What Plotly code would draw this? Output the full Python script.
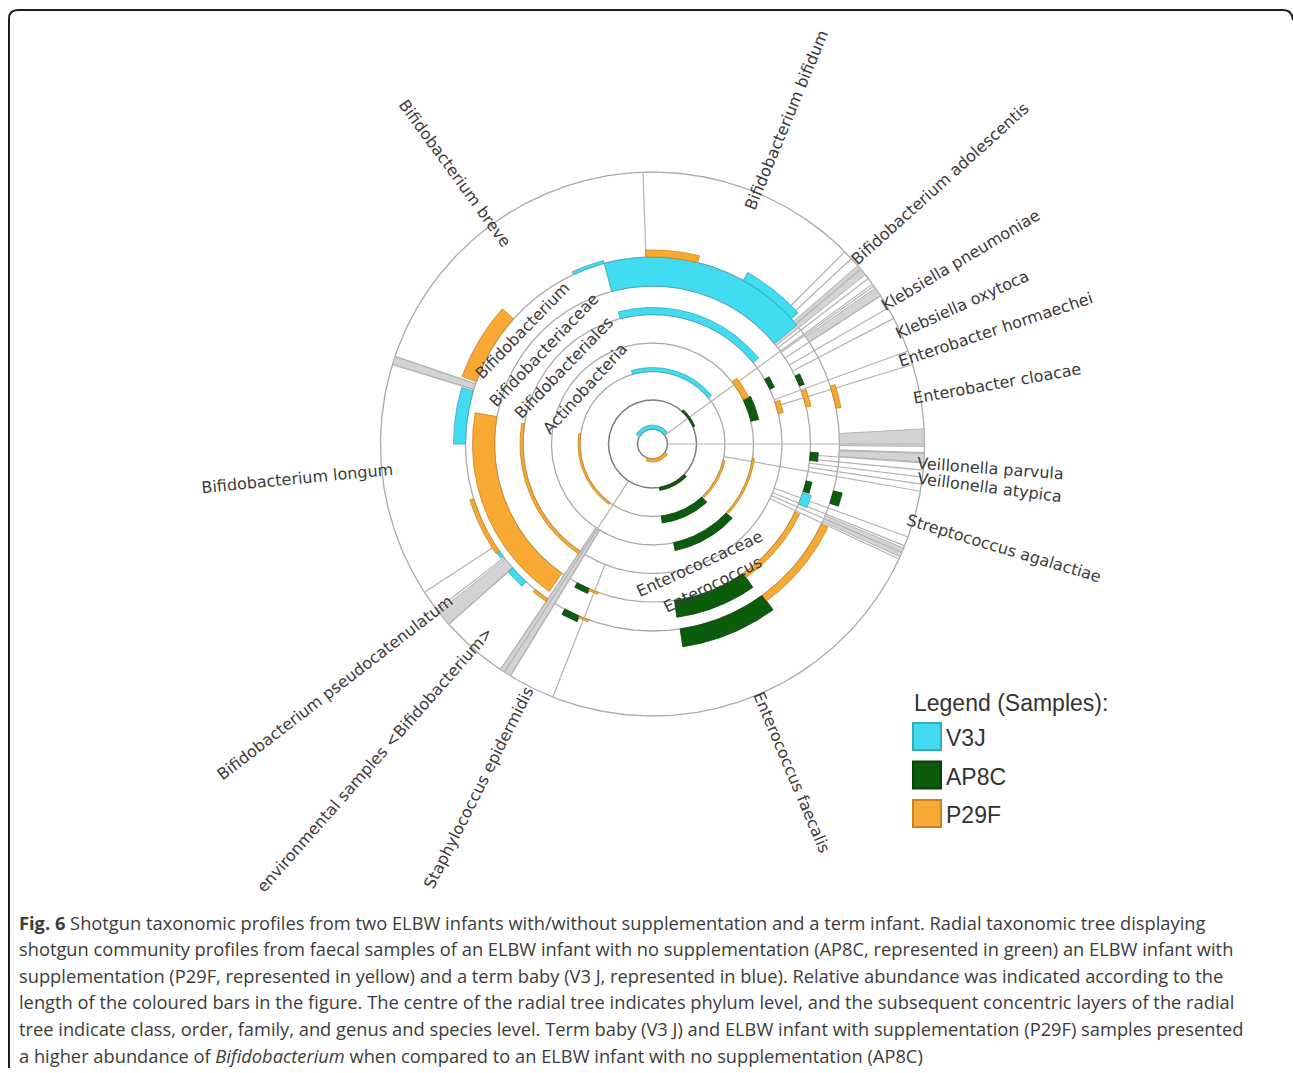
import numpy as np
import plotly.graph_objects as go

# ------------------------------------------------------------------
# Data
# ------------------------------------------------------------------
SAMPLES = ["V3J", "AP8C", "P29F"]

# Abundance bars of the radial tree: sample, tree level (0 = centre),
# angular span of the bar (degrees, counter-clockwise from east) and bar height.
bar_sample = ["V3J", "P29F",
              "AP8C", "AP8C",
              "V3J", "P29F", "AP8C", "P29F",
              "AP8C", "P29F", "AP8C", "P29F",
              "V3J", "P29F", "P29F", "AP8C",
              "V3J", "P29F", "AP8C", "P29F", "AP8C", "P29F", "P29F", "AP8C",
              "AP8C", "V3J", "AP8C",
              "V3J", "P29F", "V3J", "P29F", "V3J", "P29F", "V3J", "V3J",
              "P29F", "AP8C", "P29F", "AP8C", "P29F", "P29F", "AP8C"]
bar_level = [0, 0,
             1, 1,
             2, 2, 2, 2,
             3, 3, 3, 3,
             4, 4, 4, 4,
             5, 5, 5, 5, 5, 5, 5, 5,
             5, 5, 5,
             6, 6, 6, 6, 6, 6, 6, 6,
             6, 6, 6, 6, 6, 6, 6]
bar_theta_start = [38, 250,
                   279, 23,
                   39.5, 172, 277, 314,
                   282, 318, 13, 26,
                   39, 171, 13.5, 25,
                   39.5, 170, 278, 305, 241.5, 246.5, 13.5, 21.5,
                   354, 337.6, 342.5,
                   42, 76, 105, 138, 163.5, 197, 215, 221.5,
                   231, 242, 247, 278.5, 306, 11, 341.5]
bar_theta_end = [150, 325,
                 316, 48,
                 106, 234, 313, 347,
                 317, 352, 26, 38,
                 104.5, 236, 19, 30,
                 105, 235, 305, 334.5, 246.5, 250, 19.5, 25.5,
                 357, 342, 346.5,
                 61, 92, 115, 160.5, 180, 215, 217, 227.5,
                 236, 247, 250, 306, 334.6, 18, 345.5]
bar_value = [4, 3,
             3, 2,
             4, 2, 7, 2,
             8, 2, 8, 6,
             7, 3, 5, 5,
             29, 22, 17, 5, 5, 2, 5, 5,
             8, 9, 6,
             9, 7, 3, 15, 12, 4, 3, 6,
             3, 6, 2, 18, 7, 5, 9]

# Tree edges: angle (deg) and the level they start from; all run to the leaf circle
edge_theta = [36, 0, 237, 350,
              92, 161.2, 163, 213, 217.5, 221.5, 236, 238.5, 248.5,
              45, 43, 40, 37.5, 35.5, 33, 30, 27.5, 20, 17,
              358, 356, 354.5, 353, 351.5,
              340, 338, 336.5, 335]
edge_from = [0, 0, 1, 2,
             6, 6, 6, 6, 6, 6, 3, 3, 4,
             5, 5, 5, 5, 5, 5, 5, 5, 4, 4,
             6, 5, 5, 5, 5,
             4, 4, 4, 4]

# Collapsed sub-trees drawn as grey fans: angular span and inner level
fan_theta_start = [161.2, 218, 236, -0.5, -3.8, 38.5, 33, -24.5]
fan_theta_end = [163, 221.5, 238.5, 3.2, -1.8, 41, 35, -22.5]
fan_from = [6, 6, 3, 6, 6, 5, 6, 6]

# Leaf (species) names and their angular position
leaf_names = ["Bifidobacterium bifidum", "Bifidobacterium adolescentis",
              "Klebsiella pneumoniae", "Klebsiella oxytoca",
              "Enterobacter hormaechei", "Enterobacter cloacae",
              "Veillonella parvula", "Veillonella atypica",
              "Streptococcus agalactiae", "Enterococcus faecalis",
              "Staphylococcus epidermidis",
              "environmental samples <Bifidobacterium>",
              "Bifidobacterium pseudocatenulatum", "Bifidobacterium longum",
              "Bifidobacterium breve"]
leaf_theta = [67.5, 42.1, 30.8, 24.3, 18.4, 10.0, -4.2, -7.3, -16.6, -67.1,
              243.2, 228.6, 217.5, 185.5, 126.1]

# Inner node names and their angular position
node_names = ["Actinobacteria", "Bifidobacteriales", "Bifidobacteriaceae",
              "Bifidobacterium", "Enterococcaceae", "Enterococcus"]
node_theta = [140.5, 139.1, 139.3, 138.9, -68.3, -66.8]

caption_lines = [
    "<b>Fig. 6</b> Shotgun taxonomic profiles from two ELBW infants with/without supplementation and a term infant. Radial taxonomic tree displaying",
    "shotgun community profiles from faecal samples of an ELBW infant with no supplementation (AP8C, represented in green) an ELBW infant with",
    "supplementation (P29F, represented in yellow) and a term baby (V3 J, represented in blue). Relative abundance was indicated according to the",
    "length of the coloured bars in the figure. The centre of the radial tree indicates phylum level, and the subsequent concentric layers of the radial",
    "tree indicate class, order, family, and genus and species level. Term baby (V3 J) and ELBW infant with supplementation (P29F) samples presented",
    "a higher abundance of <i>Bifidobacterium</i> when compared to an ELBW infant with no supplementation (AP8C)",
]

# ------------------------------------------------------------------
# Layout / style
# ------------------------------------------------------------------
W, H = 1293, 1073
CX, CY = 652.5, 444.0
LEVEL_R = [15, 44, 72.5, 101, 129.5, 158, 187]
OUTER_R = 272
LEAF_LABEL_R = [351, 388, 358, 340, 362, 350, 339, 340, 367, 356,
                385, 420, 400, 357, 335]
NODE_LABEL_R = [87.5, 116.8, 144, 172.4, 128.4, 152.5]

FILL = {"V3J": "#41dcf1", "AP8C": "#0b5d0b", "P29F": "#f7a933"}
EDGE = {"V3J": "#3aa9b8", "AP8C": "#0a3f0a", "P29F": "#c98420"}
GRID = "#aaaaaa"
TXT = "#3b3b3b"
LABEL_FONT = "DejaVu Sans"


def xy(theta_deg, r):
    t = np.radians(theta_deg)
    return CX + r * np.cos(t), CY - r * np.sin(t)


def sector(t0, t1, r0, r1):
    n = max(6, int(abs(t1 - t0) * 2) + 2)
    ts = np.linspace(t0, t1, n)
    xo, yo = xy(ts, r1)
    xi, yi = xy(ts[::-1], r0)
    xs = list(np.r_[xo, xi, xo[:1]])
    ys = list(np.r_[yo, yi, yo[:1]])
    return xs, ys


fig = go.Figure()

# concentric level circles and outer leaf circle (inner two drawn darker)
ts = np.linspace(0, 360, 721)
for group, color, width in [(LEVEL_R[2:] + [OUTER_R], GRID, 1.3),
                            (LEVEL_R[:2], "#7d7d7d", 1.5)]:
    cx_all, cy_all = [], []
    for r in group:
        x, y = xy(ts, r)
        cx_all += list(x) + [None]
        cy_all += list(y) + [None]
    fig.add_trace(go.Scatter(x=cx_all, y=cy_all, mode="lines",
                             line=dict(color=color, width=width),
                             hoverinfo="skip", showlegend=False))

# grey fans of collapsed sub-trees
fx, fy = [], []
for t0, t1, lv in zip(fan_theta_start, fan_theta_end, fan_from):
    xs, ys = sector(t0, t1, LEVEL_R[lv], OUTER_R)
    fx += xs + [None]
    fy += ys + [None]
fig.add_trace(go.Scatter(x=fx, y=fy, mode="lines", fill="toself",
                         fillcolor="#d3d3d3", line=dict(color="#b4b4b4", width=1),
                         hoverinfo="skip", showlegend=False))

# tree edges
ex, ey = [], []
for th, lv in zip(edge_theta, edge_from):
    x0, y0 = xy(th, LEVEL_R[lv])
    x1, y1 = xy(th, OUTER_R)
    ex += [x0, x1, None]
    ey += [y0, y1, None]
fig.add_trace(go.Scatter(x=ex, y=ey, mode="lines",
                         line=dict(color="#b3b3b3", width=1.2),
                         hoverinfo="skip", showlegend=False))

# abundance bars, one trace per sample
for s in SAMPLES:
    bx, by = [], []
    for smp, lv, t0, t1, v in zip(bar_sample, bar_level, bar_theta_start,
                                  bar_theta_end, bar_value):
        if smp != s:
            continue
        r0 = LEVEL_R[lv]
        xs, ys = sector(t0, t1, r0, r0 + v)
        bx += xs + [None]
        by += ys + [None]
    fig.add_trace(go.Scatter(x=bx, y=by, mode="lines", fill="toself",
                             fillcolor=FILL[s], line=dict(color=EDGE[s], width=0.8),
                             name=s, hoverinfo="skip", showlegend=False))

annotations = []

# leaf labels (radial)
for name, th, r in zip(leaf_names, leaf_theta, LEAF_LABEL_R):
    x, y = xy(th, r)
    a = ((th + 180) % 360) - 180
    ang = -a if -90 <= a <= 90 else 180 - (a % 360)
    annotations.append(dict(x=x, y=y, xref="x", yref="y", text=name,
                            showarrow=False, textangle=ang,
                            xanchor="center", yanchor="middle",
                            font=dict(family=LABEL_FONT, size=16, color=TXT)))

# inner node labels (tangential)
for name, th, r in zip(node_names, node_theta, NODE_LABEL_R):
    x, y = xy(th, r)
    a = ((th + 180) % 360) - 180
    ang = -(a - 90) + 3 if a > 0 else -(a + 90) - 3
    annotations.append(dict(x=x, y=y, xref="x", yref="y", text=name,
                            showarrow=False, textangle=ang,
                            xanchor="center", yanchor="middle",
                            font=dict(family=LABEL_FONT, size=16, color=TXT)))

# legend
annotations.append(dict(x=912, y=703, xref="x", yref="y",
                        text="Legend (Samples):", showarrow=False,
                        xanchor="left", yanchor="middle",
                        font=dict(family="Liberation Sans", size=23, color="#333333")))
shapes = []
for i, s in enumerate(SAMPLES):
    y0 = 723 + i * 38.5
    shapes.append(dict(type="rect", xref="x", yref="y", x0=913, x1=941,
                       y0=y0, y1=y0 + 27, fillcolor=FILL[s],
                       line=dict(color=EDGE[s], width=2)))
    annotations.append(dict(x=944, y=y0 + 15, xref="x", yref="y", text=s,
                            showarrow=False, xanchor="left", yanchor="middle",
                            font=dict(family="Liberation Sans", size=23,
                                      color="#333333")))

# caption
for i, line in enumerate(caption_lines):
    annotations.append(dict(x=17, y=922 + i * 26.6, xref="x", yref="y",
                            text=line, showarrow=False,
                            xanchor="left", yanchor="middle",
                            font=dict(family="Open Sans", size=18.3,
                                      color="#3c3c3c")))

# frame
shapes.append(dict(type="path", xref="x", yref="y",
                   path="M 9,1068 L 9,19 Q 9,10 18,10 L 1283,10 Q 1292,10 1293,20",
                   line=dict(color="#1e1e1e", width=2)))

fig.update_layout(
    width=W, height=H,
    margin=dict(l=0, r=0, t=0, b=0),
    paper_bgcolor="white", plot_bgcolor="white",
    xaxis=dict(range=[0, W], visible=False, fixedrange=True),
    yaxis=dict(range=[H, 0], visible=False, fixedrange=True),
    showlegend=False,
    annotations=annotations,
    shapes=shapes,
)

fig.write_html("out.html")
